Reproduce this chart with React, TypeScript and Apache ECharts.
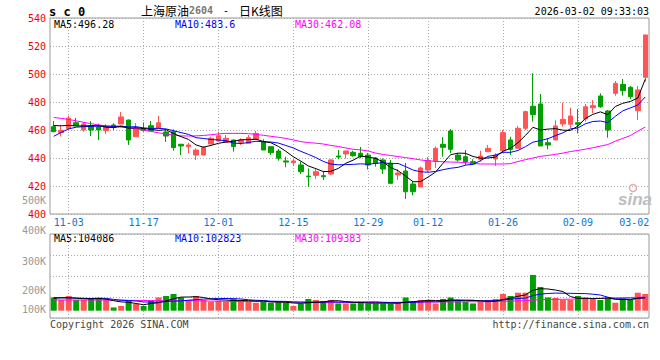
import React, { useEffect, useRef } from 'react';
import * as echarts from 'echarts';

const dates = [
  '10-30', '10-31',
  '11-03', '11-04', '11-05', '11-06', '11-07', '11-10', '11-11', '11-12', '11-13', '11-14',
  '11-17', '11-18', '11-19', '11-20', '11-21', '11-24', '11-25', '11-26', '11-27', '11-28',
  '12-01', '12-02', '12-03', '12-04', '12-05', '12-08', '12-09', '12-10', '12-11', '12-12',
  '12-15', '12-16', '12-17', '12-18', '12-19', '12-22', '12-23', '12-24', '12-25', '12-26',
  '12-29', '12-30', '12-31', '01-05', '01-06', '01-07', '01-08', '01-09',
  '01-12', '01-13', '01-14', '01-15', '01-16', '01-19', '01-20', '01-21', '01-22', '01-23',
  '01-26', '01-27', '01-28', '01-29', '01-30', '02-02', '02-03', '02-04', '02-05', '02-06',
  '02-09', '02-10', '02-11', '02-12', '02-13', '02-24', '02-25', '02-26', '02-27', '03-02',
];

const openPrices = [
  462.4, 458.2, 461.0, 465.2, 460.0, 462.9, 462.1, 459.5, 463.6, 464.3,
  467.1, 455.2, 461.1, 463.1, 461.2, 458.6, 458.8, 449.8, 448.1, 442.1,
  442.1, 450.0, 452.1, 451.2, 452.9, 451.2, 450.5, 453.4, 451.6, 448.1,
  445.0, 437.9, 436.6, 435.0, 427.1, 427.6, 427.4, 428.6, 441.4, 442.9,
  444.1, 443.4, 442.1, 440.0, 438.6, 436.4, 427.9, 430.7, 421.4, 419.3,
  431.4, 437.4, 449.8, 459.3, 442.1, 440.9, 437.4, 439.1, 444.5, 439.3,
  445.2, 452.9, 446.9, 461.2, 477.0, 478.6, 450.9, 452.9, 464.3, 464.1,
  465.2, 467.9, 475.9, 484.3, 473.6, 486.2, 492.6, 490.5, 473.8, 497.6,
];
const closePrices = [
  458.8, 459.8, 468.4, 463.1, 464.3, 460.0, 460.0, 462.4, 461.9, 469.3,
  452.9, 461.4, 459.6, 459.3, 465.2, 455.7, 447.4, 448.6, 449.3, 445.7,
  447.4, 454.1, 455.9, 454.1, 448.1, 452.9, 454.5, 457.6, 445.7, 443.8,
  439.8, 437.1, 437.9, 430.2, 426.6, 430.2, 426.6, 438.6, 440.7, 445.0,
  441.6, 440.9, 435.0, 436.1, 432.1, 421.9, 429.3, 415.9, 415.9, 432.9,
  438.1, 446.9, 447.6, 446.2, 438.6, 437.4, 435.7, 441.4, 446.9, 442.1,
  458.1, 446.2, 461.2, 473.1, 471.0, 448.6, 449.3, 462.9, 467.6, 470.0,
  464.1, 476.6, 477.4, 476.6, 460.0, 493.3, 488.1, 483.8, 488.6, 527.9,
];
const lowPrices = [
  458.4, 455.4, 460.0, 463.1, 458.8, 455.7, 452.9, 457.1, 460.0, 464.3,
  449.3, 455.2, 458.8, 459.3, 461.2, 451.4, 445.2, 442.1, 443.4, 438.6,
  442.1, 450.0, 452.1, 450.7, 444.5, 449.3, 450.5, 453.4, 445.7, 442.1,
  438.1, 433.4, 434.3, 428.6, 419.5, 425.0, 424.3, 427.9, 439.1, 439.6,
  440.9, 439.8, 431.8, 433.8, 428.6, 421.9, 424.3, 410.7, 413.4, 419.3,
  430.0, 432.9, 440.9, 443.4, 437.4, 435.0, 435.7, 437.4, 444.5, 434.3,
  445.2, 442.1, 446.9, 460.0, 466.0, 448.6, 446.2, 452.9, 462.4, 461.2,
  457.6, 466.0, 471.9, 475.9, 454.5, 484.5, 484.5, 482.1, 467.1, 494.5,
];
const highPrices = [
  466.4, 463.2, 470.2, 468.6, 465.7, 466.4, 464.5, 464.3, 464.8, 472.9,
  467.5, 465.0, 465.4, 466.4, 470.2, 460.0, 460.5, 450.0, 450.9, 446.9,
  448.6, 455.2, 458.8, 456.4, 452.9, 454.1, 456.4, 459.3, 453.4, 448.1,
  446.4, 440.9, 439.1, 437.4, 432.6, 432.6, 430.7, 439.1, 445.7, 445.0,
  445.2, 447.9, 443.6, 440.7, 439.6, 438.6, 432.1, 436.4, 423.1, 433.9,
  440.7, 448.2, 454.8, 460.7, 443.4, 445.7, 439.1, 445.2, 449.3, 443.4,
  460.0, 455.2, 462.9, 473.8, 500.5, 485.7, 454.1, 467.0, 479.5, 475.9,
  475.0, 478.6, 481.4, 486.2, 474.3, 495.0, 496.4, 491.4, 491.4, 527.9,
];

const ma5 = [
  463.2, 463.0, 463.3, 462.9, 462.88, 463.12, 463.16, 461.96, 461.72, 462.72,
  461.30, 461.58, 461.02, 460.50, 459.68, 460.24, 457.44, 455.24, 453.24, 449.34,
  447.68, 449.02, 450.48, 451.44, 451.92, 453.02, 453.10, 453.44, 451.76, 450.90,
  448.28, 444.80, 440.86, 437.76, 434.32, 432.40, 430.30, 430.44, 432.54, 436.22,
  438.50, 441.36, 440.64, 439.72, 437.14, 433.20, 430.88, 427.06, 423.02, 423.18,
  426.42, 429.94, 436.28, 442.34, 443.48, 443.34, 441.10, 439.86, 440.00, 440.70,
  444.84, 446.94, 450.90, 456.14, 461.92, 460.02, 460.64, 460.98, 459.88, 459.68,
  462.78, 468.24, 471.14, 472.94, 470.94, 476.78, 479.08, 480.36, 482.76, 496.28,
];
const ma10 = [
  455.5, 458.3, 460.8, 462.0, 462.4, 462.6, 462.7, 462.7, 462.6, 462.80,
  462.21, 462.37, 461.49, 461.11, 461.20, 460.77, 459.51, 458.13, 456.87, 454.51,
  453.96, 453.23, 452.86, 452.34, 450.63, 450.35, 451.06, 451.96, 451.60, 451.41,
  450.65, 448.95, 447.15, 444.76, 442.61, 440.34, 437.55, 435.65, 435.15, 435.27,
  435.45, 435.83, 435.54, 436.13, 436.68, 435.85, 436.12, 433.85, 431.37, 430.16,
  429.81, 430.41, 431.67, 432.68, 433.33, 434.88, 435.52, 438.07, 441.17, 442.09,
  444.09, 444.02, 445.38, 448.07, 451.31, 452.43, 453.79, 455.94, 458.01, 460.80,
  461.40, 464.44, 466.06, 466.41, 465.31, 469.78, 473.66, 475.75, 477.85, 483.60,
];
const ma30 = [
  468.9, 468.3, 467.6, 466.5, 465.5, 464.5, 463.6, 463.0, 462.5, 462.0,
  461.5, 460.8, 460.0, 459.0, 458.0, 457.2, 456.3, 455.8, 455.7, 455.8,
  456.1, 456.6, 457.2, 457.6, 457.6, 457.6, 457.4, 456.9, 456.2, 455.5,
  454.8, 454.0, 452.9, 451.7, 451.0, 450.6, 450.0, 449.0, 448.2, 447.2,
  446.2, 445.8, 445.0, 443.5, 442.5, 441.8, 441.0, 440.3, 439.5, 438.6,
  438.0, 437.6, 437.3, 437.1, 437.0, 436.7, 436.2, 435.7, 435.7, 435.7,
  435.7, 436.0, 437.5, 438.8, 440.0, 441.2, 441.8, 442.6, 443.5, 444.6,
  445.4, 446.3, 447.3, 448.5, 449.6, 452.0, 454.0, 456.0, 459.2, 462.08,
];

const volumes = [
  106000, 86000, 118000, 86000, 86000, 98000, 102000, 90000, 26000, 38000,
  80000, 54000, 38000, 80000, 106000, 118000, 134000, 106000, 86000, 118000,
  86000, 72000, 80000, 72000, 94000, 86000, 72000, 64000, 72000, 64000,
  72000, 64000, 38000, 54000, 94000, 86000, 78000, 86000, 58000, 58000,
  58000, 72000, 58000, 58000, 58000, 58000, 66000, 106000, 72000, 86000,
  86000, 58000, 94000, 106000, 86000, 72000, 58000, 72000, 86000, 94000,
  134000, 118000, 144000, 144000, 286000, 190000, 106000, 102000, 86000, 86000,
  118000, 106000, 94000, 86000, 106000, 64000, 98000, 86000, 144000, 134000,
];
const volMa5 = [
  100000, 102400, 104000, 100000, 96000, 94400, 97600, 92000, 80000, 70400,
  67200, 57600, 48000, 57600, 64000, 79200, 95200, 108800, 109600, 112000,
  105600, 93600, 88000, 85600, 80800, 80800, 80800, 77600, 77600, 71200,
  68800, 67200, 61600, 58400, 64000, 67200, 69600, 79200, 80000, 72800,
  68000, 66400, 60800, 60800, 60800, 60800, 60000, 69600, 72000, 77600,
  83200, 81600, 79200, 85600, 85600, 83200, 83200, 79200, 74400, 76000,
  88800, 100800, 115200, 126400, 164800, 176000, 173600, 165600, 153600, 113600,
  99200, 99200, 97600, 97600, 101600, 91200, 89600, 88000, 100000, 104086,
];
const volMa10 = [
  104000, 104000, 102400, 100800, 99200, 97600, 100000, 98400, 90400, 83200,
  80800, 77600, 70400, 68800, 67200, 73600, 76800, 78400, 84000, 88000,
  92800, 94400, 98400, 97600, 96800, 93600, 87200, 83200, 81600, 76000,
  75200, 74400, 69600, 68000, 68000, 68000, 68800, 70400, 69600, 68800,
  68000, 68000, 70400, 70400, 67200, 64800, 63200, 65600, 66400, 69600,
  72000, 71200, 74400, 79200, 81600, 83200, 82400, 79200, 80000, 80800,
  86400, 92000, 97600, 100800, 120800, 132800, 137600, 140800, 140000, 139200,
  137600, 136800, 132000, 125600, 108000, 95200, 94400, 92800, 99200, 102823,
];
const volMa30 = [
  85600, 85600, 85600, 85600, 85600, 85600, 85600, 85600, 85600, 85600,
  83200, 82400, 81600, 80800, 80000, 80000, 80000, 80000, 80000, 80000,
  78400, 76800, 76000, 75200, 74400, 74400, 73600, 73600, 72800, 72000,
  72000, 71200, 70400, 69600, 68800, 68000, 67200, 67200, 66400, 66400,
  65600, 65600, 65600, 65600, 66400, 66400, 67200, 68000, 68000, 68800,
  69600, 69600, 70400, 70400, 71200, 71200, 72000, 72000, 72800, 73600,
  75200, 76800, 78400, 80000, 84800, 88000, 89600, 90400, 91200, 92000,
  94400, 96000, 97600, 99200, 100800, 102400, 104000, 105600, 107200, 109383,
];

const priceTicks = { min: 400, max: 540, step: 20 };
const labelDates = ['11-03', '11-17', '12-01', '12-15', '12-29', '01-12', '01-26', '02-09', '03-02'];
const gridDates = ['11-03', '11-17', '12-01', '12-15', '12-29', '01-12', '01-26', '02-09'];
const volumeTickLabels = ['500K', '400K', '300K', '200K', '100K'];
const maLegend = ['MA5:496.28', 'MA10:483.6', 'MA30:462.08'];
const volLegend = ['MA5:104086', 'MA10:102823', 'MA30:109383'];

const RED = '#ff5555';
const GREEN = '#00a000';
const MONO = '"DejaVu Sans Mono", monospace';
const DATE_BLUE = '#0f75d6';
const GRID_GRAY = '#aaaaaa';
const MA_COLORS = ['#000000', '#0000ff', '#ff00ff'];

export default function App() {
  const ref = useRef<HTMLDivElement>(null);

  useEffect(() => {
    if (!ref.current) return;
    const chart = echarts.init(ref.current, null, { renderer: 'svg' });

    const candles = dates.map((_, i) => [openPrices[i], closePrices[i], lowPrices[i], highPrices[i]]);
    const volData = volumes.map((v, i) => ({
      value: v,
      itemStyle: { color: closePrices[i] >= openPrices[i] ? RED : GREEN },
    }));
    const lastDate = labelDates[labelDates.length - 1];

    const vLineMark = {
      silent: true,
      symbol: ['none', 'none'],
      z: 1,
      label: { show: false },
      lineStyle: { type: [1, 2], color: GRID_GRAY, width: 1 },
      emphasis: { disabled: true },
      data: gridDates.map((d) => ({ xAxis: d })),
    };

    const lineSeries = (data: number[], color: string, xi: number, yi: number) => ({
      type: 'line',
      data,
      xAxisIndex: xi,
      yAxisIndex: yi,
      showSymbol: false,
      symbol: 'none',
      silent: true,
      z: 4,
      lineStyle: { width: 1, color },
      itemStyle: { color },
    });

    const monoText = (text: string, x: number, y: number, fill: string, align = 'left') => ({
      type: 'text',
      x,
      y,
      silent: true,
      style: { text, fill, fontFamily: MONO, fontSize: 10, align, verticalAlign: 'middle' },
    });

    const volLabelY = [200, 230.5, 261, 290, 309.5];

    const option: any = {
      animation: false,
      backgroundColor: '#ffffff',
      grid: [
        { left: 50, top: 18, width: 599, height: 196, show: true, borderColor: '#999', borderWidth: 1, backgroundColor: 'transparent' },
        { left: 50, top: 234, width: 599, height: 84, show: true, borderColor: '#999', borderWidth: 1, backgroundColor: 'transparent' },
      ],
      xAxis: [
        {
          type: 'category',
          gridIndex: 0,
          data: dates,
          boundaryGap: true,
          axisLine: { show: false },
          axisTick: { show: false },
          splitLine: { show: false },
          axisLabel: {
            interval: (_i: number, v: string) => labelDates.includes(v),
            color: DATE_BLUE,
            fontFamily: MONO,
            fontSize: 10,
            margin: 3,
            formatter: (v: string) => (v === lastDate ? `{e|${v}}` : v),
            rich: { e: { width: 52, align: 'left', color: DATE_BLUE, fontFamily: MONO, fontSize: 10 } },
          },
        },
        {
          type: 'category',
          gridIndex: 1,
          data: dates,
          boundaryGap: true,
          axisLine: { show: false },
          axisTick: { show: false },
          splitLine: { show: false },
          axisLabel: { show: false },
        },
      ],
      yAxis: [
        {
          type: 'value',
          gridIndex: 0,
          min: priceTicks.min,
          max: priceTicks.max,
          interval: priceTicks.step,
          axisLine: { show: false },
          axisTick: { show: false },
          splitLine: { show: true, lineStyle: { type: [1, 2], color: GRID_GRAY, width: 1 } },
          axisLabel: { color: '#ee0000', fontFamily: MONO, fontSize: 10, margin: 4 },
        },
        {
          type: 'value',
          gridIndex: 1,
          min: -58400,
          max: 613600,
          axisLine: { show: false },
          axisTick: { show: false },
          splitLine: { show: false },
          axisLabel: { show: false },
        },
        {
          type: 'value',
          gridIndex: 1,
          min: 0,
          max: 4,
          interval: 1,
          axisLine: { show: false },
          axisTick: { show: false },
          axisLabel: { show: false },
          splitLine: { show: true, lineStyle: { type: [1, 2], color: GRID_GRAY, width: 1 } },
        },
      ],
      series: [
        {
          type: 'candlestick',
          xAxisIndex: 0,
          yAxisIndex: 0,
          data: candles,
          barWidth: 5,
          silent: true,
          z: 2,
          itemStyle: { color: RED, color0: GREEN, borderColor: RED, borderColor0: GREEN, borderWidth: 1 },
          markLine: vLineMark,
        },
        lineSeries(ma30, MA_COLORS[2], 0, 0),
        lineSeries(ma10, MA_COLORS[1], 0, 0),
        lineSeries(ma5, MA_COLORS[0], 0, 0),
        {
          type: 'bar',
          xAxisIndex: 1,
          yAxisIndex: 1,
          data: volData,
          barWidth: 6,
          silent: true,
          z: 2,
          markLine: vLineMark,
        },
        lineSeries(volMa30, MA_COLORS[2], 1, 1),
        lineSeries(volMa10, MA_COLORS[1], 1, 1),
        lineSeries(volMa5, MA_COLORS[0], 1, 1),
      ],
      graphic: [
        {
          type: 'text', x: 49, y: 12, silent: true,
          style: { text: 's c 0', fill: '#000', fontFamily: MONO, fontSize: 12, fontWeight: 'bold', align: 'left', verticalAlign: 'middle' },
        },
        {
          type: 'text', x: 141, y: 10, silent: true,
          style: {
            text: '{a|上海原油}{b|2604}{c|-}{a|日K线图}',
            verticalAlign: 'middle',
            align: 'left',
            rich: {
              a: { fill: '#000', fontFamily: '"Noto Sans CJK SC"', fontSize: 12 },
              b: { fill: '#777', fontFamily: MONO, fontSize: 10, fontWeight: 'bold' },
              c: { fill: '#000', fontFamily: MONO, fontSize: 10, width: 26, align: 'center' },
            },
          },
        },
        monoText('2026-03-02 09:33:03', 649, 11.5, '#000', 'right'),
        monoText(maLegend[0], 54, 24, MA_COLORS[0]),
        monoText(maLegend[1], 175, 24, MA_COLORS[1]),
        monoText(maLegend[2], 295, 24, MA_COLORS[2]),
        monoText(volLegend[0], 54, 238.5, MA_COLORS[0]),
        monoText(volLegend[1], 175, 238.5, MA_COLORS[1]),
        monoText(volLegend[2], 295, 238.5, MA_COLORS[2]),
        ...volumeTickLabels.map((t, i) => monoText(t, 46, volLabelY[i], '#999', 'right')),
        monoText('Copyright 2026 SINA.COM', 50, 324, '#444'),
        monoText('http://finance.sina.com.cn', 649, 324, '#444', 'right'),
        {
          type: 'text', x: 618, y: 199, z: 10, silent: true,
          style: {
            text: 'sina', fill: '#bdbdbd', fontFamily: '"Liberation Sans", Arial, sans-serif',
            fontSize: 17, fontStyle: 'italic', fontWeight: 'bold', align: 'left', verticalAlign: 'middle',
          },
        },
        {
          type: 'circle', silent: true, z: 10,
          shape: { cx: 633, cy: 188, r: 3.5 },
          style: { fill: 'none', stroke: '#e8aaaa', lineWidth: 1.5 },
        },
      ],
    };

    chart.setOption(option);
    return () => chart.dispose();
  }, []);

  return (
    <div
      ref={ref}
      style={{ position: 'fixed', left: 0, top: 0, width: 660, height: 360, background: '#fff' }}
    />
  );
}
